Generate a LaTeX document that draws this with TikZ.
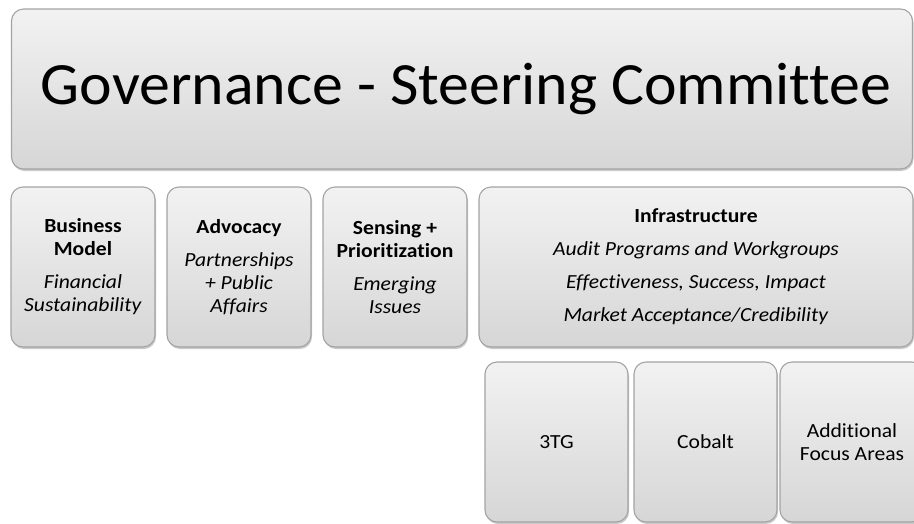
\documentclass[tikz,border=0pt]{standalone}
\usepackage{fontspec}
\setmainfont{Carlito}[Ligatures=NoCommon]
\newfontfamily\titlefont{Carlito}[Ligatures=NoCommon,FakeStretch=1.03]
\newfontfamily\boxfont{Carlito}[Ligatures=NoCommon,FakeStretch=1.08]
\usetikzlibrary{shadows}
\definecolor{boxtop}{HTML}{F2F2F2}
\definecolor{boxbot}{HTML}{D6D6D6}
\definecolor{boxline}{HTML}{A3A3A3}
\tikzset{
  block/.style={align=center,rectangle,rounded corners=12pt,draw=boxline,line width=1.1pt,
    top color=boxtop,bottom color=boxbot,inner sep=0pt,
    drop shadow={shadow xshift=1pt,shadow yshift=-2pt,opacity=0.35,fill=black!60},
    font=\boxfont\fontsize{20}{23}\selectfont},
  small/.style={block,minimum width=144pt,minimum height=160pt},
}
\begin{document}
\begin{tikzpicture}[x=1pt,y=-1pt]
    \useasboundingbox (0,0) rectangle (914,523);
    \clip (0,0) rectangle (914,523);
    \node at (462, 89) [block, minimum width=901pt, minimum height=160pt, font=\titlefont\fontsize{60}{72}\selectfont] (gov) {\hspace{8pt}Governance - Steering Committee};

    \node at (83, 267) [small] (bizmodel) {\textbf{Business}\\\textbf{Model}\\[10pt]\textit{Financial}\\\textit{Sustainability}};
    \node at (239, 267) [small] (advocacy) {\textbf{Advocacy}\\[10pt]\textit{Partnerships}\\\textit{+ Public}\\\textit{Affairs}};
    \node at (395, 267) [small] (sensing) {\textbf{Sensing +}\\\textbf{Prioritization}\\[10pt]\textit{Emerging}\\\textit{Issues}};
    \node at (696, 267) [block, minimum width=434pt, minimum height=160pt] (infra) {\textbf{Infrastructure}\\[10pt]\textit{Audit Programs and Workgroups}\\[10pt]\textit{Effectiveness, Success, Impact}\\[10pt]\textit{Market Acceptance/Credibility}};

    \node at (556.5, 442) [small, minimum width=143pt] (tg) {3TG};
    \node at (705.5, 442) [small, minimum width=143pt] (cobalt) {Cobalt};
    \node at (852, 442) [small] (focus) {Additional\\Focus Areas};
\end{tikzpicture}
\end{document}
